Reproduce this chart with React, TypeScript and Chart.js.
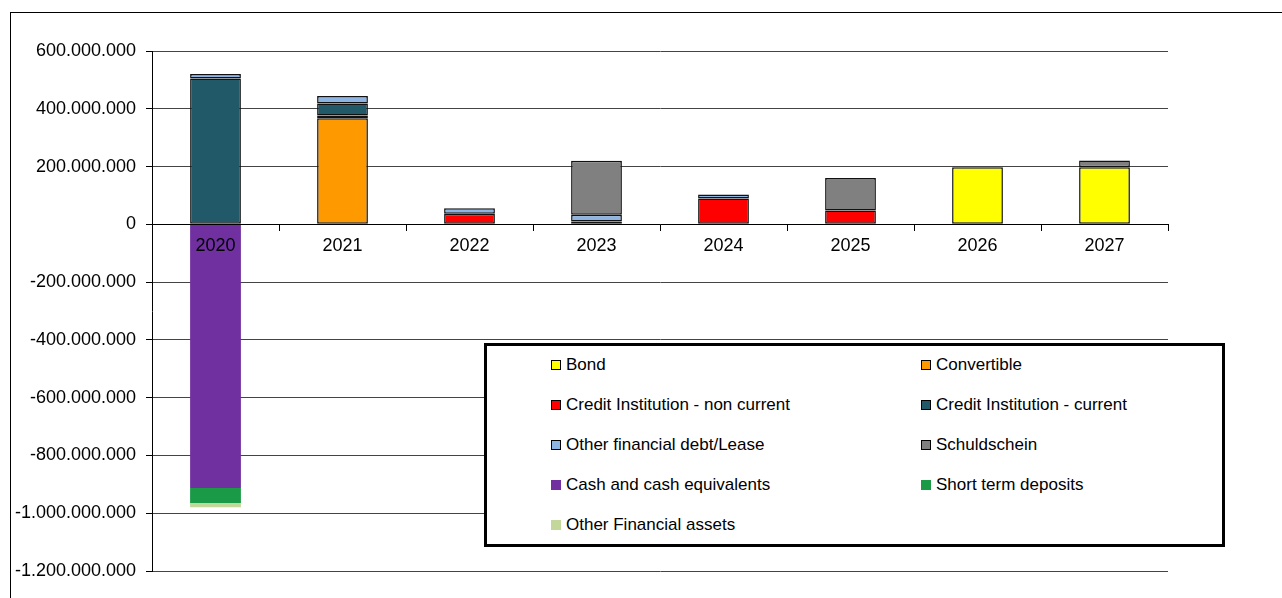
import React, { useEffect, useRef } from "react";
import { Chart, registerables } from "chart.js";

Chart.register(...registerables);

const categories = ["2020", "2021", "2022", "2023", "2024", "2025", "2026", "2027"];

const bond = [null, null, null, null, null, null, 198e6, 198e6];
const convertible = [null, 367e6, null, null, null, null, null, null];
const creditNonCurrent = [null, 10e6, 37e6, 10e6, 89e6, 48e6, null, null];
const creditCurrent = [505e6, 41e6, null, null, null, null, null, null];
const otherDebtLease = [15e6, 26e6, 19e6, 23e6, 14e6, null, null, null];
const schuldschein = [null, null, null, 187e6, null, 112e6, null, 23e6];
const cashEquivalents = [-913e6, null, null, null, null, null, null, null];
const shortTermDeposits = [-52e6, null, null, null, null, null, null, null];
const otherFinancialAssets = [-14e6, null, null, null, null, null, null, null];

const yMin = -1200000000;
const yMax = 600000000;
const yStep = 200000000;

const series = [
  { label: "Bond", data: bond, color: "#FFFF00", outlined: true },
  { label: "Convertible", data: convertible, color: "#FF9900", outlined: true },
  { label: "Credit Institution - non current", data: creditNonCurrent, color: "#FF0000", outlined: true },
  { label: "Credit Institution - current", data: creditCurrent, color: "#215968", outlined: true },
  { label: "Other financial debt/Lease", data: otherDebtLease, color: "#8DB4E2", outlined: true },
  { label: "Schuldschein", data: schuldschein, color: "#808080", outlined: true },
  { label: "Cash and cash equivalents", data: cashEquivalents, color: "#7030A0", outlined: false },
  { label: "Short term deposits", data: shortTermDeposits, color: "#1A9A46", outlined: false },
  { label: "Other Financial assets", data: otherFinancialAssets, color: "#C4D79B", outlined: false },
];

function formatDots(v: number): string {
  const neg = v < 0;
  const s = Math.round(Math.abs(v)).toString();
  const out = s.replace(/\B(?=(\d{3})+(?!\d))/g, ".");
  return (neg ? "-" : "") + out;
}

const FONT = "'Liberation Sans', Arial, sans-serif";

export default function App() {
  const canvasRef = useRef<HTMLCanvasElement | null>(null);

  useEffect(() => {
    const canvas = canvasRef.current;
    if (!canvas) return;
    const chart = new Chart(canvas, {
      type: "bar",
      data: {
        labels: categories,
        datasets: series.map((s) => ({
          label: s.label,
          data: s.data as any,
          backgroundColor: s.color,
          borderColor: "#111111",
          borderWidth: s.outlined ? 1.5 : 0,
          borderSkipped: false,
          inflateAmount: 0,
          categoryPercentage: 1,
          barPercentage: 0.4,
        })),
      },
      options: {
        responsive: false,
        animation: false,
        events: [],
        layout: { padding: { left: 0, top: 51, right: 114, bottom: 27 } },
        plugins: {
          legend: { display: false },
          tooltip: { enabled: false },
          title: { display: false },
        },
        scales: {
          x: {
            stacked: true,
            position: { y: 0 } as any,
            grid: {
              offset: true,
              drawOnChartArea: false,
              drawTicks: true,
              tickLength: 6,
              color: "#000000",
              z: 1,
            },
            border: { display: true, color: "#000000", width: 1, z: 1 },
            ticks: {
              color: "#000000",
              font: { family: FONT, size: 18 },
              padding: 5,
              maxRotation: 0,
              z: 2,
            },
          },
          y: {
            stacked: true,
            min: yMin,
            max: yMax,
            afterFit: (scale: any) => {
              scale.width = 152;
            },
            grid: {
              color: "#444444",
              lineWidth: 1,
              drawTicks: true,
              tickLength: 6,
              tickColor: "#000000",
            },
            border: { display: true, color: "#000000", width: 1 },
            ticks: {
              stepSize: yStep,
              color: "#000000",
              font: { family: FONT, size: 18 },
              padding: 10,
              callback: (v: any) => formatDots(Number(v)),
            },
          },
        },
      },
    });
    return () => chart.destroy();
  }, []);

  return (
    <div
      style={{
        position: "fixed",
        left: 0,
        top: 0,
        width: 1282,
        height: 598,
        overflow: "hidden",
        background: "#ffffff",
      }}
    >
      <div
        style={{
          position: "absolute",
          left: 10,
          top: 12,
          width: 1400,
          height: 700,
          border: "1px solid #000000",
        }}
      />
      <canvas
        ref={canvasRef}
        width={1282}
        height={598}
        style={{ position: "absolute", left: 0, top: 0, width: 1282, height: 598 }}
      />
      <div
        style={{
          position: "absolute",
          left: 484,
          top: 343,
          width: 735,
          height: 198,
          border: "3px solid #000000",
          background: "#ffffff",
          fontFamily: FONT,
          fontSize: 17,
          color: "#000000",
        }}
      >
        {series.map((s, i) => {
          const col = i % 2;
          const row = Math.floor(i / 2);
          return (
            <div
              key={s.label}
              style={{
                position: "absolute",
                left: col === 0 ? 64 : 434,
                top: 19 + row * 40 - 12,
                height: 24,
                display: "flex",
                alignItems: "center",
                whiteSpace: "nowrap",
              }}
            >
              <span
                style={{
                  display: "inline-block",
                  width: s.outlined ? 8 : 10,
                  height: s.outlined ? 8 : 10,
                  background: s.color,
                  border: s.outlined ? "1px solid #000000" : "none",
                  marginRight: 5,
                }}
              />
              <span>{s.label}</span>
            </div>
          );
        })}
      </div>
    </div>
  );
}
